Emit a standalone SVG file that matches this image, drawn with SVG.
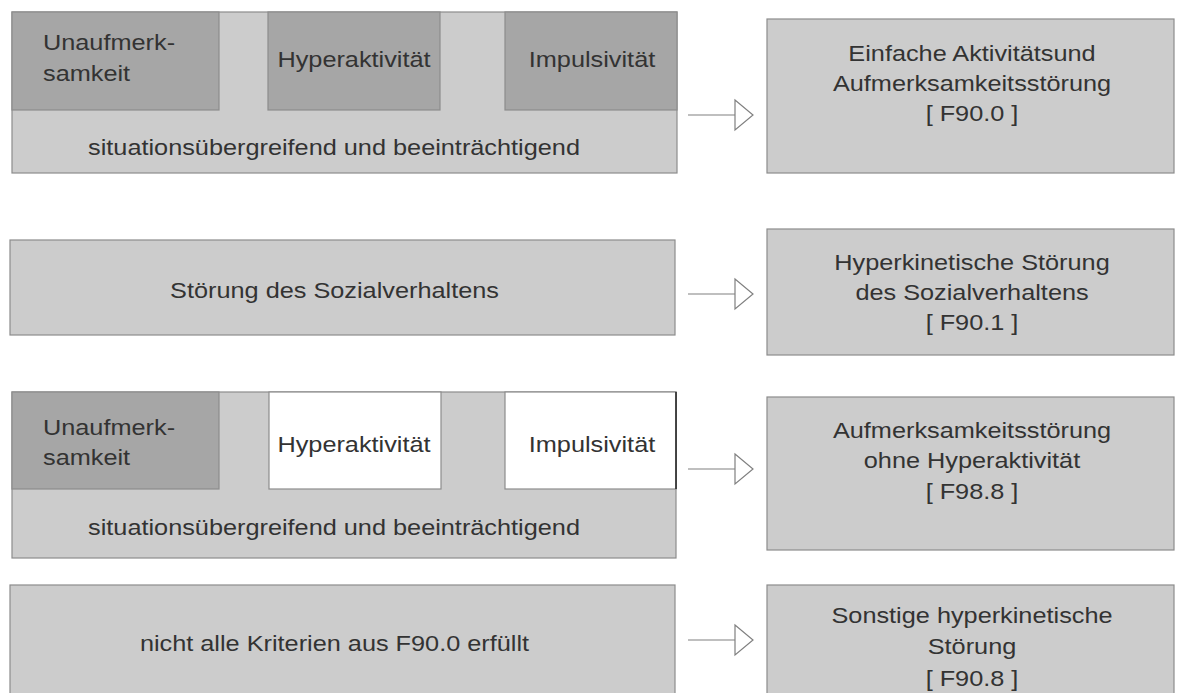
<svg xmlns="http://www.w3.org/2000/svg" width="1177" height="693" viewBox="0 0 1177 693">
<style>
.lt{fill:#cccccc;stroke:#8c8c8c;stroke-width:1.2}
.dk{fill:#a6a6a6;stroke:#8c8c8c;stroke-width:1.2}
.wh{fill:#ffffff;stroke:#8c8c8c;stroke-width:1.2}
.t{font-family:"Liberation Sans",Arial,Helvetica,sans-serif;font-size:22px;fill:#333333}
.c{text-anchor:middle}
.con{stroke:#808080;stroke-width:1.2;fill:none}
</style>
<defs>
<marker id="ah" markerUnits="userSpaceOnUse" markerWidth="20" markerHeight="32" viewBox="-1 -1 20 32" refX="18" refY="15" orient="auto" overflow="visible">
<path d="M0,0 L18,15 L0,30 Z" fill="#ffffff" stroke="#808080" stroke-width="1.2"/>
</marker>
</defs>
<rect width="1177" height="693" fill="#ffffff"/>

<g id="row1">
<rect class="lt" x="12" y="12" width="665" height="161"/>
<g id="r1-unaufmerksamkeit">
<rect class="dk" x="12" y="12" width="207" height="98"/>
<text class="t" transform="translate(43 50) scale(1.15 1)">Unaufmerk-</text>
<text class="t" transform="translate(43 81) scale(1.15 1)">samkeit</text>
</g>
<g id="r1-hyperaktivitaet">
<rect class="dk" x="268" y="12" width="172" height="98"/>
<text class="t c" transform="translate(354 67) scale(1.15 1)">Hyperaktivität</text>
</g>
<g id="r1-impulsivitaet">
<rect class="dk" x="505" y="12" width="172" height="98"/>
<text class="t c" transform="translate(592 67) scale(1.15 1)">Impulsivität</text>
</g>
<text class="t c" transform="translate(334 155) scale(1.15 1)">situationsübergreifend und beeinträchtigend</text>
</g>

<g id="f900">
<rect class="lt" x="767" y="19" width="407" height="154"/>
<text class="t c" transform="translate(972 61) scale(1.15 1)">Einfache Aktivitätsund</text>
<text class="t c" transform="translate(972 91) scale(1.15 1)">Aufmerksamkeitsstörung</text>
<text class="t c" transform="translate(972 121) scale(1.15 1)">[ F90.0 ]</text>
</g>

<g id="row2">
<rect class="lt" x="10" y="240" width="665" height="95"/>
<text class="t c" transform="translate(334.5 298) scale(1.15 1)">Störung des Sozialverhaltens</text>
</g>

<g id="f901">
<rect class="lt" x="767" y="229" width="407" height="126"/>
<text class="t c" transform="translate(972 270) scale(1.15 1)">Hyperkinetische Störung</text>
<text class="t c" transform="translate(972 300) scale(1.15 1)">des Sozialverhaltens</text>
<text class="t c" transform="translate(972 330) scale(1.15 1)">[ F90.1 ]</text>
</g>

<g id="row3">
<rect class="lt" x="12" y="392" width="664" height="166"/>
<g id="r3-unaufmerksamkeit">
<rect class="dk" x="12" y="392" width="207" height="97"/>
<text class="t" transform="translate(43 435) scale(1.15 1)">Unaufmerk-</text>
<text class="t" transform="translate(43 465) scale(1.15 1)">samkeit</text>
</g>
<g id="r3-hyperaktivitaet">
<rect class="wh" x="269" y="392" width="172" height="97"/>
<text class="t c" transform="translate(354 452) scale(1.15 1)">Hyperaktivität</text>
</g>
<g id="r3-impulsivitaet">
<rect class="wh" x="505" y="392" width="171" height="97"/>
<line x1="676" y1="392" x2="676" y2="489" stroke="#222222" stroke-width="1.5"/>
<text class="t c" transform="translate(592 452) scale(1.15 1)">Impulsivität</text>
</g>
<text class="t c" transform="translate(334 535) scale(1.15 1)">situationsübergreifend und beeinträchtigend</text>
</g>

<g id="f988">
<rect class="lt" x="767" y="397" width="407" height="153"/>
<text class="t c" transform="translate(972 438) scale(1.15 1)">Aufmerksamkeitsstörung</text>
<text class="t c" transform="translate(972 468) scale(1.15 1)">ohne Hyperaktivität</text>
<text class="t c" transform="translate(972 499) scale(1.15 1)">[ F98.8 ]</text>
</g>

<g id="row4">
<rect class="lt" x="10" y="585" width="665" height="120"/>
<text class="t c" transform="translate(334.5 651) scale(1.15 1)">nicht alle Kriterien aus F90.0 erfüllt</text>
</g>

<g id="f908">
<rect class="lt" x="767" y="585" width="407" height="120"/>
<text class="t c" transform="translate(972 623) scale(1.15 1)">Sonstige hyperkinetische</text>
<text class="t c" transform="translate(972 654) scale(1.15 1)">Störung</text>
<text class="t c" transform="translate(972 686) scale(1.15 1)">[ F90.8 ]</text>
</g>

<g id="connectors">
<path class="con" d="M688,115 H753" marker-end="url(#ah)"/>
<path class="con" d="M688,294 H753" marker-end="url(#ah)"/>
<path class="con" d="M688,469 H753" marker-end="url(#ah)"/>
<path class="con" d="M688,640 H753" marker-end="url(#ah)"/>
</g>
</svg>
